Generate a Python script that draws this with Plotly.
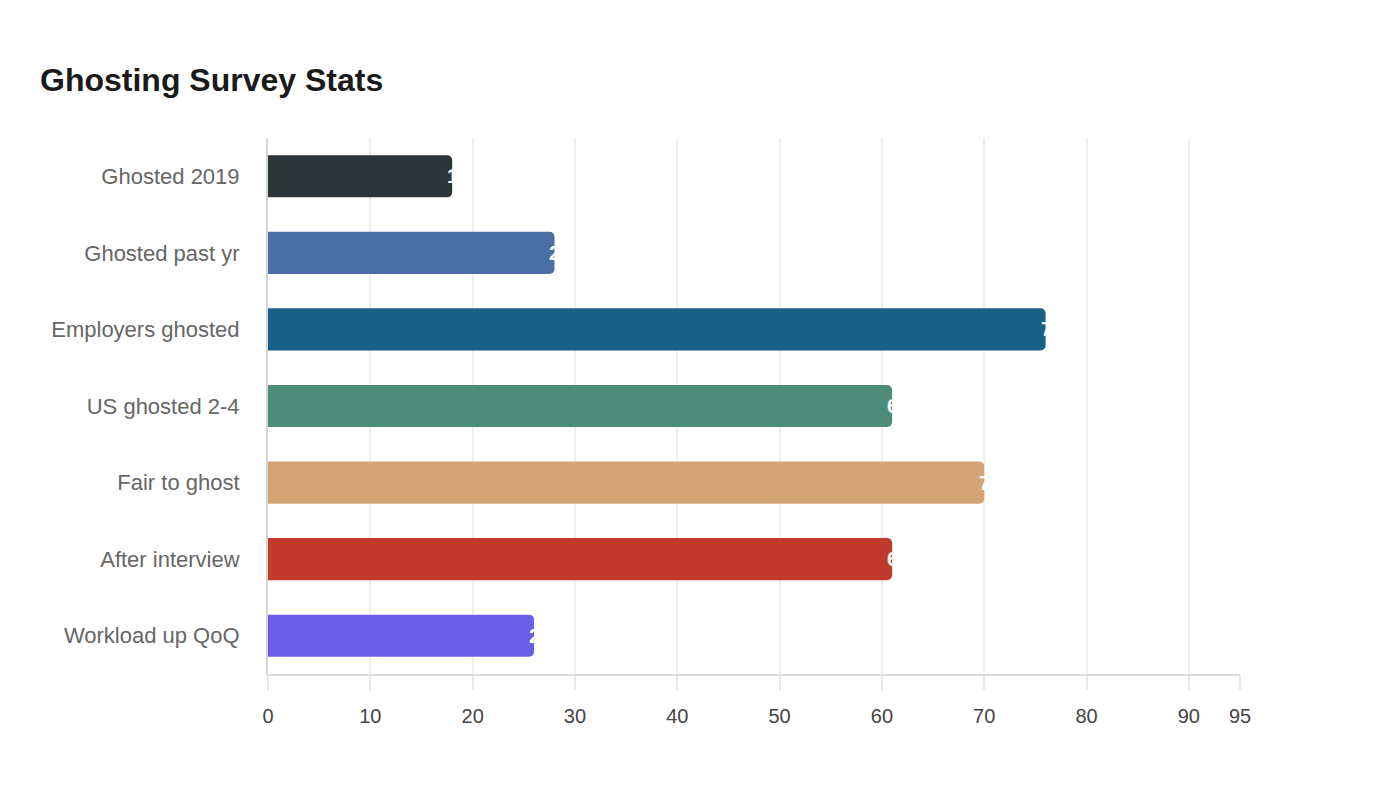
import plotly.graph_objects as go

categories = ["Ghosted 2019", "Ghosted past yr", "Employers ghosted", "US ghosted 2-4",
              "Fair to ghost", "After interview", "Workload up QoQ"]
values = [18, 28, 76, 61, 70, 61, 26]
colors = ["#2c3437", "#4a6fa5", "#176187", "#4e8c7a", "#d3a474", "#c0392b", "#6c5ce7"]
tick_vals = [0, 10, 20, 30, 40, 50, 60, 70, 80, 90, 95]

fig = go.Figure()
fig.add_trace(go.Bar(
    y=categories, x=values, orientation="h",
    marker=dict(color=colors, line=dict(width=0), cornerradius=5),
    hoverinfo="x+y",
))

# white value labels at the bar ends (mostly lost against the white background)
for c, v in zip(categories, values):
    fig.add_annotation(x=v, y=c, text="<b>%d</b>" % v, showarrow=False,
                       xanchor="left", xshift=-7,
                       font=dict(color="white", size=20, family="Liberation Sans"))

fig.update_layout(
    width=1400, height=800,
    plot_bgcolor="white", paper_bgcolor="white",
    margin=dict(l=260, r=168, t=130, b=134),
    bargap=0.45,
    showlegend=False,
    font=dict(family="Liberation Sans, Arial, sans-serif"),
    title=dict(text="<b>Ghosting Survey Stats</b>", x=32 / 1400, xanchor="left",
               y=1 - 72 / 800, yanchor="middle",
               font=dict(size=32, color="#1a1a1a")),
)
fig.update_xaxes(range=[0, 95], tickvals=tick_vals, showgrid=True, gridcolor="#efefef",
                 gridwidth=1.5, zeroline=False, showline=True, linecolor="#dddddd",
                 linewidth=2, ticks="outside", ticklen=14, tickcolor="#e8e8e8",
                 tickwidth=1.5, ticklabelstandoff=9,
                 tickfont=dict(size=20, color="#444444"))
fig.update_yaxes(autorange="reversed", showline=True, linecolor="#d6d6d6", linewidth=2,
                 showgrid=False, ticks="", ticklen=0, ticklabelstandoff=22,
                 tickfont=dict(size=22, color="#666666"))

fig.write_html("out.html")
